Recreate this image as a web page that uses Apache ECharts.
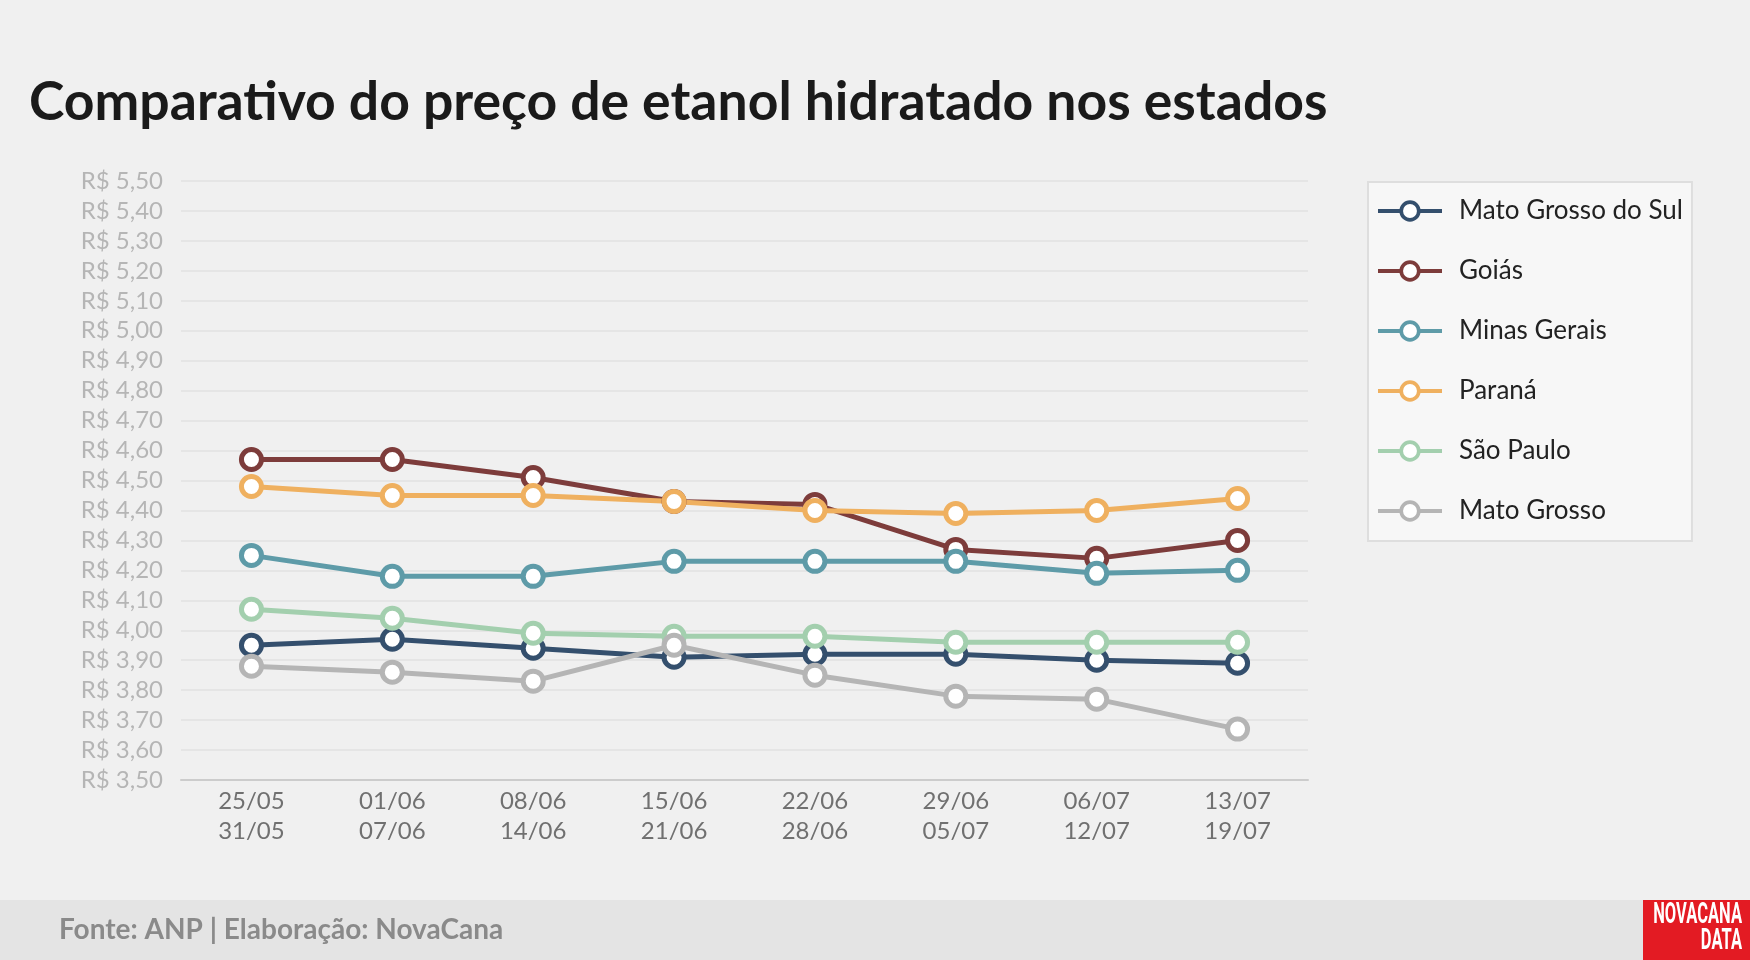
<!DOCTYPE html>
<html>
<head>
<meta charset="utf-8">
<script src="https://cdn.jsdelivr.net/npm/echarts@6/dist/echarts.min.js"></script>
<style>
html,body{margin:0;padding:0;background:#f0f0f0;}
#chart{width:1750px;height:960px;}
</style>
</head>
<body>
<div id="chart"></div>
<script>
const categories = ['25/05\n31/05','01/06\n07/06','08/06\n14/06','15/06\n21/06','22/06\n28/06','29/06\n05/07','06/07\n12/07','13/07\n19/07'];
const seriesNames = ['Mato Grosso do Sul','Goiás','Minas Gerais','Paraná','São Paulo','Mato Grosso'];
const matoGrossoDoSul = [3.95, 3.97, 3.94, 3.91, 3.92, 3.92, 3.90, 3.89];
const goias = [4.57, 4.57, 4.51, 4.43, 4.42, 4.27, 4.24, 4.30];
const minasGerais = [4.25, 4.18, 4.18, 4.23, 4.23, 4.23, 4.19, 4.20];
const parana = [4.48, 4.45, 4.45, 4.43, 4.40, 4.39, 4.40, 4.44];
const saoPaulo = [4.07, 4.04, 3.99, 3.98, 3.98, 3.96, 3.96, 3.96];
const matoGrosso = [3.88, 3.86, 3.83, 3.95, 3.85, 3.78, 3.77, 3.67];
const seriesValues = [matoGrossoDoSul, goias, minasGerais, parana, saoPaulo, matoGrosso];
const colors = ['#344f6d','#7d3c3b','#5e9ba8','#efb05f','#a3cfae','#b5b5b5'];

const chart = echarts.init(document.getElementById('chart'));
const series = seriesNames.map((name, i) => ({
  name: name,
  type: 'line',
  data: seriesValues[i],
  symbol: 'circle',
  symbolSize: 20,
  color: colors[i],
  lineStyle: {color: colors[i], width: 5},
  itemStyle: {color: '#ffffff', borderColor: colors[i], borderWidth: 5},
  emphasis: {disabled: true},
  z: 2
}));

chart.setOption({
  backgroundColor: '#f0f0f0',
  animation: false,
  title: {
    text: 'Comparativo do preço de etanol hidratado nos estados',
    left: 24, top: 71,
    textStyle: {fontFamily: 'Lato', fontWeight: 'bold', fontSize: 53.5, color: '#1a1a1a'}
  },
  grid: {left: 181, right: 442, top: 181, bottom: 180},
  legend: {
    orient: 'vertical',
    left: 1368, top: 182,
    padding: [16, 9, 17, 8],
    itemWidth: 64, itemHeight: 22, itemGap: 34,
    backgroundColor: '#f7f7f7',
    borderColor: '#dedede', borderWidth: 2,
    lineStyle: {width: 4},
    itemStyle: {borderWidth: 3.7},
    textStyle: {fontFamily: 'Lato', fontSize: 26, color: '#222', padding: [0,0,0,12]},
    data: seriesNames
  },
  xAxis: {
    type: 'category',
    data: categories,
    boundaryGap: true,
    axisLine: {show: true, lineStyle: {color: '#cccccc', width: 2}},
    axisTick: {show: false},
    axisLabel: {fontFamily: 'Lato', fontSize: 24, color: '#707070', lineHeight: 30, margin: 6, interval: 0}
  },
  yAxis: {
    type: 'value',
    min: 3.5, max: 5.5, interval: 0.1,
    axisLine: {show: false},
    axisTick: {show: false},
    splitLine: {lineStyle: {color: '#e2e2e2', width: 1.5}},
    axisLabel: {
      fontFamily: 'Lato', fontSize: 24, color: '#b5b5b5', margin: 18,
      formatter: v => 'R$ ' + v.toFixed(2).replace('.', ',')
    }
  },
  series: series,
  graphic: [
    {type: 'rect', left: 0, top: 900, shape: {width: 1750, height: 60}, style: {fill: '#e4e4e4'}, z: -1},
    {type: 'text', x: 59, y: 930, style: {text: 'Fonte: ANP | Elaboração: NovaCana', fontFamily: 'Lato', fontWeight: 'bold', fontSize: 28, fill: '#8a8a8a', verticalAlign: 'middle'}},
    {type: 'rect', shape: {x: 1643, y: 900, width: 107, height: 60}, style: {fill: '#e31b23'}},
    {type: 'text', x: 1742, y: 901, scaleX: 0.56, style: {text: 'NOVACANA', fontFamily: 'Roboto', fontWeight: 'bold', fontSize: 29.5, fill: '#ffffff', align: 'right', verticalAlign: 'top'}},
    {type: 'text', x: 1742, y: 927, scaleX: 0.56, style: {text: 'DATA', fontFamily: 'Roboto', fontWeight: 'bold', fontSize: 29.5, fill: '#ffffff', align: 'right', verticalAlign: 'top'}}
  ]
});
</script>
</body>
</html>
